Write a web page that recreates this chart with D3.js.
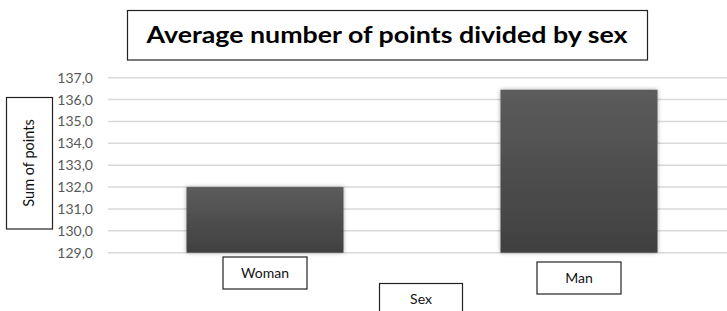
<!DOCTYPE html>
<html>
<head>
<meta charset="utf-8">
<script src="https://cdn.jsdelivr.net/npm/d3@7"></script>
<style>
body { margin: 0; background: #fff; }
text { font-family: Lato, "Open Sans", sans-serif; }
</style>
</head>
<body>
<div id="chart"></div>
<script>
var categories = ["Woman", "Man"];
var values = [132.0, 136.45];
var tickValues = [129, 130, 131, 132, 133, 134, 135, 136, 137];
var titleText = "Average number of points divided by sex";
var yTitle = "Sum of points";
var xTitle = "Sex";

var width = 727, height = 311;

var svg = d3.select("#chart")
  .append("svg")
  .attr("width", width)
  .attr("height", height);

var defs = svg.append("defs");
var grad = defs.append("linearGradient")
  .attr("id", "barGrad")
  .attr("x1", 0).attr("y1", 0).attr("x2", 0).attr("y2", 1);
grad.append("stop").attr("offset", "0%").attr("stop-color", "#5c5c5c");
grad.append("stop").attr("offset", "100%").attr("stop-color", "#404040");

var shadow = defs.append("filter").attr("id", "shadow")
  .attr("x", "-10%").attr("y", "-10%").attr("width", "120%").attr("height", "120%");
shadow.append("feGaussianBlur").attr("in", "SourceAlpha").attr("stdDeviation", 2).attr("result", "blur");
shadow.append("feFlood").attr("flood-color", "#000").attr("flood-opacity", 0.35);
shadow.append("feComposite").attr("in2", "blur").attr("operator", "in").attr("result", "sh");
var merge = shadow.append("feMerge");
merge.append("feMergeNode").attr("in", "sh");
merge.append("feMergeNode").attr("in", "SourceGraphic");

// scales
var x = d3.scaleBand()
  .domain(categories)
  .range([108, 736])
  .paddingInner(0.5)
  .paddingOuter(0.25);

var y = d3.scaleLinear()
  .domain([129, 137])
  .range([252.7, 77.7]);

// grid lines
svg.append("g")
  .selectAll("line")
  .data(tickValues)
  .enter().append("line")
  .attr("x1", 108)
  .attr("x2", width)
  .attr("y1", function(d) { return y(d); })
  .attr("y2", function(d) { return y(d); })
  .attr("stroke", "#d9d9d9")
  .attr("stroke-width", 1.5);

// y axis labels
var yAxis = d3.axisLeft(y)
  .tickValues(tickValues)
  .tickSize(0)
  .tickPadding(0)
  .tickFormat(function(d) { return d3.format(".1f")(d).replace(".", ","); });

var gY = svg.append("g")
  .attr("transform", "translate(93,0)")
  .call(yAxis);
gY.select(".domain").remove();
gY.selectAll("text")
  .attr("fill", "#595959")
  .attr("font-size", "14px")
  .style("font-family", "Lato, sans-serif");

// bars
svg.append("g")
  .selectAll("rect")
  .data(categories)
  .enter().append("rect")
  .attr("x", function(d) { return x(d); })
  .attr("width", x.bandwidth())
  .attr("y", function(d, i) { return y(values[i]); })
  .attr("height", function(d, i) { return y(129) - y(values[i]); })
  .attr("fill", "url(#barGrad)")
  .attr("filter", "url(#shadow)");

// category label boxes
var labelTop = { "Woman": 257, "Man": 262 };
var cat = svg.append("g")
  .selectAll("g")
  .data(categories)
  .enter().append("g")
  .attr("transform", function(d) {
    return "translate(" + (x(d) + x.bandwidth() / 2) + "," + labelTop[d] + ")";
  });
cat.append("rect")
  .attr("x", -42).attr("y", 0)
  .attr("width", 84).attr("height", 32)
  .attr("fill", "#fff")
  .attr("stroke", "#222")
  .attr("stroke-width", 1.2);
cat.append("text")
  .attr("x", 0).attr("y", 21)
  .attr("text-anchor", "middle")
  .attr("font-size", "14px")
  .attr("fill", "#111")
  .text(function(d) { return d; });

// title
svg.append("rect")
  .attr("x", 127.5).attr("y", 10.5)
  .attr("width", 520).attr("height", 49.5)
  .attr("fill", "#fff")
  .attr("stroke", "#222")
  .attr("stroke-width", 1.2);
svg.append("text")
  .attr("x", 387).attr("y", 43)
  .attr("text-anchor", "middle")
  .attr("font-size", "23px")
  .attr("font-weight", "bold")
  .attr("fill", "#000")
  .attr("textLength", 481)
  .attr("lengthAdjust", "spacingAndGlyphs")
  .text(titleText);

// y title
svg.append("rect")
  .attr("x", 6.5).attr("y", 97.5)
  .attr("width", 46).attr("height", 131.5)
  .attr("fill", "#fff")
  .attr("stroke", "#222")
  .attr("stroke-width", 1.2);
svg.append("text")
  .attr("transform", "translate(34,163) rotate(-90)")
  .attr("text-anchor", "middle")
  .attr("font-size", "14.5px")
  .attr("fill", "#111")
  .text(yTitle);

// x title
svg.append("rect")
  .attr("x", 379.5).attr("y", 283.5)
  .attr("width", 83).attr("height", 40)
  .attr("fill", "#fff")
  .attr("stroke", "#222")
  .attr("stroke-width", 1.2);
svg.append("text")
  .attr("x", 421).attr("y", 304)
  .attr("text-anchor", "middle")
  .attr("font-size", "14px")
  .attr("fill", "#111")
  .text(xTitle);
</script>
</body>
</html>
